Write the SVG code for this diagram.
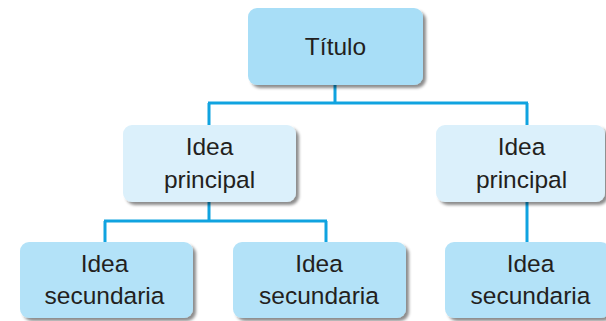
<svg xmlns="http://www.w3.org/2000/svg" width="606" height="321" viewBox="0 0 606 321">
<style>
.c{fill:none;stroke:#10a3e0;stroke-width:3}
.t{font-family:"Liberation Sans",Arial,sans-serif;font-size:24.5px;fill:#231f20;text-anchor:middle}
.ti{fill:#a8def7}
.p{fill:#dbf0fb}
.s{fill:#b3e2f8}
</style>
<defs>
<filter id="sh" x="-10%" y="-10%" width="125%" height="130%">
<feDropShadow dx="3" dy="3" stdDeviation="1.6" flood-color="#000" flood-opacity="0.45"/>
</filter>
</defs>
<rect width="606" height="321" fill="#fff"/>
<g id="connectors">
<path class="c" d="M335 85V103M208 103H528M209 103V125M527 103V125"/>
<path class="c" d="M209 202V221M104 221H327M105 221V242M326 221V242"/>
<path class="c" d="M527 202V242"/>
</g>
<g id="titulo">
<rect class="ti" x="248" y="8" width="175" height="77" rx="9" filter="url(#sh)"/>
<text class="t" x="335.5" y="55">Título</text>
</g>
<g id="principal1">
<rect class="p" x="123" y="125" width="173" height="77" rx="9" filter="url(#sh)"/>
<text class="t" x="209.5" y="155">Idea</text>
<text class="t" x="209.5" y="188">principal</text>
</g>
<g id="principal2">
<rect class="p" x="436" y="125" width="169" height="77" rx="9" filter="url(#sh)"/>
<text class="t" x="521.5" y="155">Idea</text>
<text class="t" x="521.5" y="188">principal</text>
</g>
<g id="secundaria1">
<rect class="s" x="20" y="242" width="173" height="76" rx="9" filter="url(#sh)"/>
<text class="t" x="104.5" y="272">Idea</text>
<text class="t" x="104.5" y="304">secundaria</text>
</g>
<g id="secundaria2">
<rect class="s" x="233" y="242" width="173" height="76" rx="9" filter="url(#sh)"/>
<text class="t" x="319" y="272">Idea</text>
<text class="t" x="319" y="304">secundaria</text>
</g>
<g id="secundaria3">
<rect class="s" x="445" y="242" width="165" height="76" rx="9" filter="url(#sh)"/>
<text class="t" x="530.5" y="272">Idea</text>
<text class="t" x="530.5" y="304">secundaria</text>
</g>
</svg>
